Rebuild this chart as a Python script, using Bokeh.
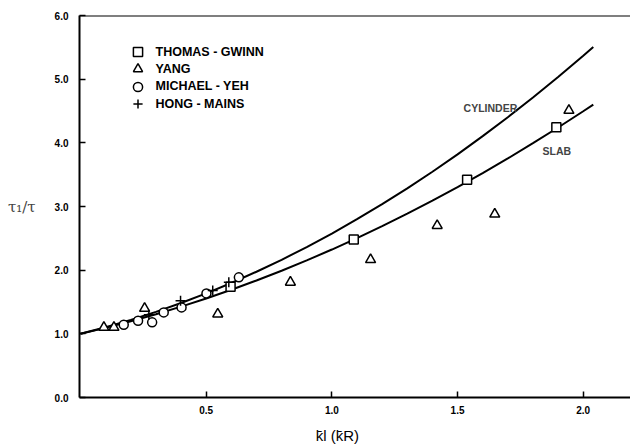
from bokeh.plotting import figure
from bokeh.models import (FixedTicker, PrintfTickFormatter, Legend, LegendItem, Label,
                          Span, LinearAxis)
from bokeh.embed import file_html
from bokeh.resources import INLINE

# Theoretical curves
cyl_x = [0.0, 0.1, 0.2, 0.3, 0.4, 0.5, 0.6, 0.7, 0.8, 0.9, 1.0, 1.1, 1.2, 1.3, 1.4,
         1.5, 1.6, 1.7, 1.8, 1.9, 2.0, 2.04]
cyl_y = [1.0, 1.103, 1.218, 1.345, 1.484, 1.635, 1.799, 1.975, 2.163, 2.363, 2.575,
         2.80, 3.036, 3.285, 3.546, 3.819, 4.105, 4.402, 4.712, 5.034, 5.368, 5.505]
slab_x = [0.0, 0.1, 0.2, 0.3, 0.4, 0.5, 0.6, 0.7, 0.8, 0.9, 1.0, 1.1, 1.2, 1.3, 1.4,
          1.5, 1.6, 1.7, 1.8, 1.9, 2.0, 2.04]
slab_y = [1.0, 1.094, 1.197, 1.308, 1.428, 1.556, 1.693, 1.838, 1.991, 2.153, 2.324,
          2.503, 2.691, 2.887, 3.091, 3.304, 3.525, 3.755, 3.994, 4.241, 4.496, 4.60]

# Experimental data
tg_x = [0.597, 1.087, 1.538, 1.893]
tg_y = [1.74, 2.48, 3.42, 4.245]
yang_x = [0.093, 0.133, 0.255, 0.546, 0.835, 1.154, 1.419, 1.648, 1.943]
yang_y = [1.10, 1.10, 1.40, 1.31, 1.81, 2.165, 2.70, 2.88, 4.51]
my_x = [0.172, 0.229, 0.285, 0.331, 0.402, 0.501, 0.630]
my_y = [1.143, 1.206, 1.18, 1.337, 1.415, 1.635, 1.887]
hm_x = [0.272, 0.398, 0.526, 0.590]
hm_y = [1.30, 1.52, 1.68, 1.81]

series_names = ["THOMAS - GWINN", "YANG", "MICHAEL - YEH", "HONG - MAINS"]

x_ticks = [0.5, 1.0, 1.5, 2.0]
y_ticks = [0, 1, 2, 3, 4, 5, 6]

FONT = "Liberation Sans"
X_TITLE = "k\u0304l (k\u0304R)"
X_TITLE_POS = 1.022          # horizontal placement of the x title (layout)

p = figure(width=630, height=448, x_range=(-0.004, 2.188), y_range=(0, 6),
           output_backend="svg", toolbar_location=None,
           min_border_left=79, min_border_right=0, min_border_top=15, min_border_bottom=51)
p.outline_line_color = None
p.xgrid.visible = False
p.ygrid.visible = False
p.background_fill_color = "white"

for ax in (p.xaxis[0], p.yaxis[0]):
    ax.axis_line_width = 2
    ax.axis_line_color = "black"
    ax.major_tick_in = 6
    ax.major_tick_out = 0
    ax.major_tick_line_width = 1.5
    ax.minor_tick_line_color = None
    ax.major_label_text_font = FONT
    ax.major_label_text_font_style = "bold"
    ax.major_label_text_font_size = "10px"
    ax.major_label_text_color = "black"
    ax.formatter = PrintfTickFormatter(format="%.1f")

p.xaxis[0].ticker = FixedTicker(ticks=x_ticks)
p.yaxis[0].ticker = FixedTicker(ticks=y_ticks)
p.xaxis[0].major_label_standoff = 8
p.yaxis[0].major_label_standoff = 11

p.yaxis[0].axis_label = "\u03c4\u2081/\u03c4"
p.yaxis[0].axis_label_orientation = "horizontal"
p.yaxis[0].axis_label_text_font = "DejaVu Serif"
p.yaxis[0].axis_label_text_font_style = "normal"
p.yaxis[0].axis_label_text_font_size = "15px"
p.yaxis[0].axis_label_standoff = 16

# x title: a bare second axis whose single label is the title
title_axis = LinearAxis(ticker=FixedTicker(ticks=[X_TITLE_POS]),
                        formatter=PrintfTickFormatter(format=X_TITLE),
                        axis_line_color=None, major_tick_line_color=None,
                        minor_tick_line_color=None,
                        major_tick_in=0, major_tick_out=0,
                        major_label_standoff=10,
                        major_label_text_font=FONT,
                        major_label_text_font_size="15px",
                        major_label_text_color="black")
p.add_layout(title_axis, "below")

p.add_layout(Span(location=6, dimension="width", line_color="black", line_width=2))

p.line(cyl_x, cyl_y, line_color="black", line_width=2)
p.line(slab_x, slab_y, line_color="black", line_width=2)

r_tg = p.scatter(tg_x, tg_y, marker="square", size=9, fill_color="white",
                 line_color="black", line_width=1.5)
r_yang = p.scatter(yang_x, yang_y, marker="triangle", size=10, fill_color="white",
                   line_color="black", line_width=1.5)
r_my = p.scatter(my_x, my_y, marker="circle", size=9, fill_color="white",
                 line_color="black", line_width=1.5)
r_hm = p.scatter(hm_x, hm_y, marker="cross", size=10, line_color="black", line_width=1.5)

# one legend box per row so the rows can sit closer than the glyph box
row_bottoms = [334, 317, 299.5, 282]
for name, rend, yb in zip(series_names, [r_tg, r_yang, r_my, r_hm], row_bottoms):
    lg = Legend(items=[LegendItem(label=name, renderers=[rend])], location=(46.5, yb))
    lg.border_line_color = None
    lg.background_fill_alpha = 0
    lg.padding = 0
    lg.margin = 0
    lg.spacing = 0
    lg.glyph_width = 23
    lg.glyph_height = 23
    lg.label_height = 23
    lg.label_standoff = 7
    lg.label_text_font = FONT
    lg.label_text_font_style = "bold"
    lg.label_text_font_size = "12.5px"
    lg.label_text_color = "black"
    p.add_layout(lg)

p.add_layout(Label(x=1.524, y=4.547, text="CYLINDER", text_baseline="middle",
                   text_font=FONT, text_font_style="bold", text_font_size="10.5px"))
p.add_layout(Label(x=1.838, y=3.871, text="SLAB", text_baseline="middle",
                   text_font=FONT, text_font_style="bold", text_font_size="10.5px"))

open("out.html", "w").write(file_html(p, INLINE))
